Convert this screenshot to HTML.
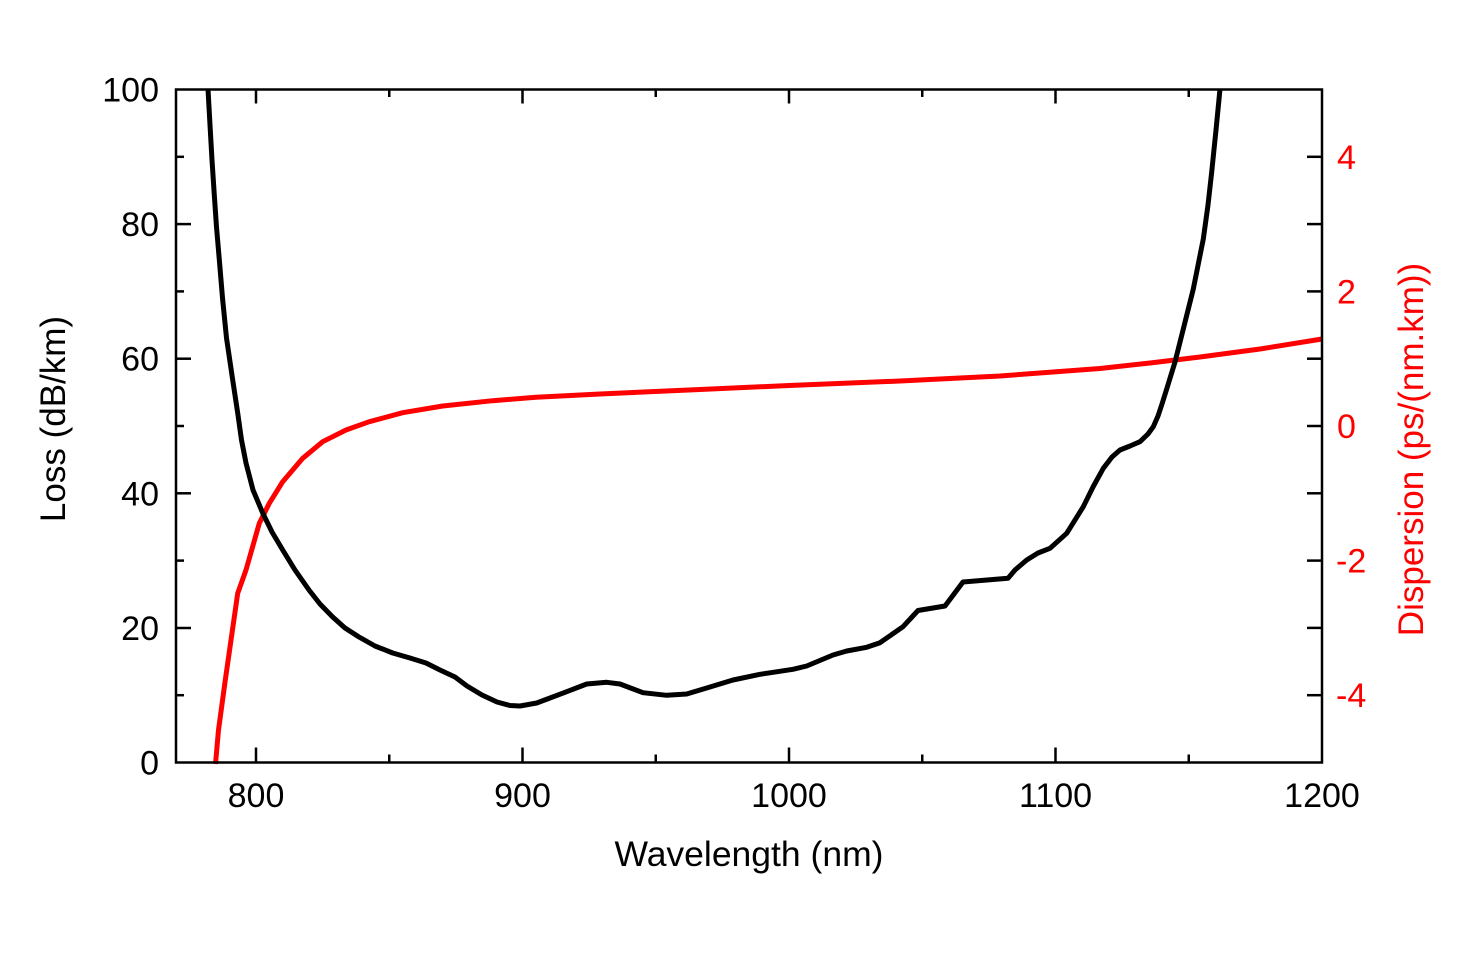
<!DOCTYPE html>
<html>
<head>
<meta charset="utf-8">
<style>
  html, body { margin:0; padding:0; background:#fff; }
  svg { display:block; }
  text { font-family: "Liberation Sans", Arial, sans-serif; }
</style>
</head>
<body>
<svg width="1459" height="964" viewBox="0 0 1459 964" xmlns="http://www.w3.org/2000/svg">
  <rect x="0" y="0" width="1459" height="964" fill="#fff"/>

  <!-- curves -->
  <polyline fill="none" stroke="#ff0000" stroke-width="5" stroke-linejoin="round" stroke-linecap="butt"
    points="215.5,764 218.5,730 225.3,680 237.7,593.3 246,570 259.3,523.3 269.3,503.3 282.7,481.7 302.7,458.3 322.7,441.7 346,430 369.3,421.7 402.7,412.7 442.7,406 492.7,400.7 536,397.3 600,394 700,389.5 789,385.5 900,381 1000,376 1100,368.5 1150,363 1200,357 1260,349 1322,339"/>

  <polyline fill="none" stroke="#000" stroke-width="5" stroke-linejoin="round" stroke-linecap="butt"
    points="208,89 210,125 212,160 214.3,195 216.5,227 219.5,262 222.5,298 226.5,338 232.7,380 237.7,413 241.5,440 246,463 253,490 262.7,513 272,532 282.7,550 295,570 309,590 320,604 332.7,617 345,628 359,637 375,646 392.7,653 410,658 426,663 440,670 455,677 467,686 482,695 497,702 510,705.5 520,706 536.7,703 550,698 566.7,691.7 586.7,684 606.7,682.3 620,684 643,692.7 666.7,695.3 686.7,694 706.7,688 733,680 760,674.3 793,669.3 806.7,666 833,655 846.7,651 866.7,647.3 880,642.7 903,626.7 918,610.5 945,606 963,582 1008,578.3 1015,570 1026.7,560 1038,553 1050,548.3 1066.7,533.3 1083.3,506.7 1093,487 1103.3,468.3 1112,457 1120,450 1130,446 1140,441.7 1148,434 1153.3,426.7 1158,416 1162,404 1166.7,389 1171,375 1175,362 1183.3,329 1193.3,289 1203.3,239 1208,205 1211.7,172 1216,130 1220,89"/>

  <!-- cover curve overflow above frame -->
  <rect x="170" y="0" width="1160" height="88" fill="#fff"/>

  <!-- frame -->
  <rect x="176" y="89.5" width="1146" height="673" fill="none" stroke="#000" stroke-width="2.5"/>

  <g stroke="#000" stroke-width="2.5">
    <!-- bottom ticks -->
    <line x1="256" y1="762.5" x2="256" y2="747.5"/>
    <line x1="522.5" y1="762.5" x2="522.5" y2="747.5"/>
    <line x1="789" y1="762.5" x2="789" y2="747.5"/>
    <line x1="1055.5" y1="762.5" x2="1055.5" y2="747.5"/>
    <line x1="389.25" y1="762.5" x2="389.25" y2="754.5"/>
    <line x1="655.75" y1="762.5" x2="655.75" y2="754.5"/>
    <line x1="922.25" y1="762.5" x2="922.25" y2="754.5"/>
    <line x1="1188.75" y1="762.5" x2="1188.75" y2="754.5"/>
    <!-- top ticks -->
    <line x1="256" y1="89.5" x2="256" y2="103.5"/>
    <line x1="522.5" y1="89.5" x2="522.5" y2="103.5"/>
    <line x1="789" y1="89.5" x2="789" y2="103.5"/>
    <line x1="1055.5" y1="89.5" x2="1055.5" y2="103.5"/>
    <line x1="389.25" y1="89.5" x2="389.25" y2="97"/>
    <line x1="655.75" y1="89.5" x2="655.75" y2="97"/>
    <line x1="922.25" y1="89.5" x2="922.25" y2="97"/>
    <line x1="1188.75" y1="89.5" x2="1188.75" y2="97"/>
    <!-- left ticks -->
    <line x1="176" y1="628" x2="191" y2="628"/>
    <line x1="176" y1="493.3" x2="191" y2="493.3"/>
    <line x1="176" y1="358.7" x2="191" y2="358.7"/>
    <line x1="176" y1="224.1" x2="191" y2="224.1"/>
    <line x1="176" y1="695.2" x2="184" y2="695.2"/>
    <line x1="176" y1="560.6" x2="184" y2="560.6"/>
    <line x1="176" y1="426" x2="184" y2="426"/>
    <line x1="176" y1="291.4" x2="184" y2="291.4"/>
    <line x1="176" y1="156.8" x2="184" y2="156.8"/>
    <!-- right ticks -->
    <line x1="1322" y1="695.2" x2="1307" y2="695.2"/>
    <line x1="1322" y1="627.9" x2="1307" y2="627.9"/>
    <line x1="1322" y1="560.6" x2="1307" y2="560.6"/>
    <line x1="1322" y1="493.3" x2="1307" y2="493.3"/>
    <line x1="1322" y1="426" x2="1307" y2="426"/>
    <line x1="1322" y1="358.7" x2="1307" y2="358.7"/>
    <line x1="1322" y1="291.4" x2="1307" y2="291.4"/>
    <line x1="1322" y1="224.1" x2="1307" y2="224.1"/>
    <line x1="1322" y1="156.8" x2="1307" y2="156.8"/>
  </g>

  <!-- left tick labels -->
  <g font-size="34" fill="#000" text-anchor="end">
    <text x="159" y="774.5">0</text>
    <text x="159" y="640">20</text>
    <text x="159" y="505.3">40</text>
    <text x="159" y="370.7">60</text>
    <text x="159" y="236.1">80</text>
    <text x="159" y="101.5">100</text>
  </g>

  <!-- bottom tick labels -->
  <g font-size="34" fill="#000" text-anchor="middle">
    <text x="256" y="807">800</text>
    <text x="522.5" y="807">900</text>
    <text x="789" y="807">1000</text>
    <text x="1055.5" y="807">1100</text>
    <text x="1322" y="807">1200</text>
  </g>

  <!-- right tick labels -->
  <g font-size="34" fill="#ff0000" text-anchor="start">
    <text x="1336" y="707.2">-4</text>
    <text x="1336" y="572.6">-2</text>
    <text x="1337" y="438">0</text>
    <text x="1337" y="303.4">2</text>
    <text x="1337" y="168.8">4</text>
  </g>

  <!-- axis titles -->
  <text x="749" y="866" font-size="35.5" fill="#000" text-anchor="middle">Wavelength (nm)</text>
  <text transform="translate(65,419) rotate(-90)" font-size="35" fill="#000" text-anchor="middle">Loss (dB/km)</text>
  <text transform="translate(1423,449.5) rotate(-90)" font-size="35" fill="#ff0000" text-anchor="middle">Dispersion (ps/(nm.km))</text>
</svg>
</body>
</html>
